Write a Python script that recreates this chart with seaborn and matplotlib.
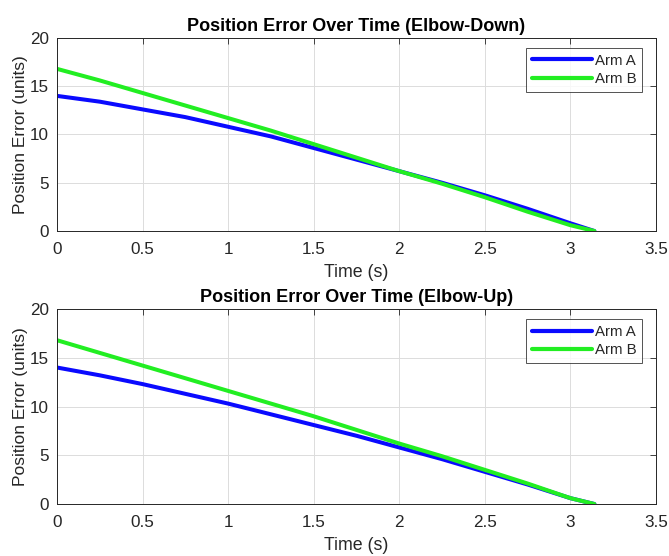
import matplotlib
matplotlib.use("Agg")
import matplotlib.pyplot as plt
import numpy as np
import pandas as pd
import seaborn as sns

# Sampled position error (units) over time (s)
time_s = [0.0, 0.25, 0.5, 0.75, 1.0, 1.25, 1.5, 1.75, 2.0, 2.25, 2.5, 2.75, 3.0, 3.14]

down_arm_a = [14.0, 13.4, 12.6, 11.8, 10.8, 9.8, 8.6, 7.4, 6.2, 5.0, 3.7, 2.3, 0.8, 0.0]
down_arm_b = [16.8, 15.6, 14.3, 13.0, 11.7, 10.4, 9.0, 7.6, 6.2, 4.9, 3.5, 2.0, 0.6, 0.0]

up_arm_a = [14.0, 13.2, 12.3, 11.3, 10.3, 9.2, 8.1, 7.0, 5.8, 4.6, 3.3, 2.0, 0.6, 0.0]
up_arm_b = [16.8, 15.5, 14.2, 12.9, 11.6, 10.3, 9.0, 7.6, 6.2, 4.9, 3.5, 2.1, 0.6, 0.0]

series_names = ["Arm A", "Arm B"]
titles = ["Position Error Over Time (Elbow-Down)", "Position Error Over Time (Elbow-Up)"]
x_ticks = [0, 0.5, 1, 1.5, 2, 2.5, 3, 3.5]
y_ticks = [0, 5, 10, 15, 20]

sns.set_style("white")
plt.rcParams["font.family"] = ["Liberation Sans", "DejaVu Sans"]

palette = {"Arm A": "#0a0aff", "Arm B": "#22ee22"}


def long_frame(a, b):
    return pd.DataFrame({
        "Time (s)": time_s * 2,
        "Position Error (units)": a + b,
        "Series": [series_names[0]] * len(time_s) + [series_names[1]] * len(time_s),
    })


fig = plt.figure(figsize=(6.69, 5.56), dpi=100)
ax_top = fig.add_axes([0.0852, 0.5845, 0.8954, 0.3472])
ax_bot = fig.add_axes([0.0852, 0.0935, 0.8954, 0.3507])

for ax, (a, b), title in zip([ax_top, ax_bot],
                             [(down_arm_a, down_arm_b), (up_arm_a, up_arm_b)],
                             titles):
    sns.lineplot(data=long_frame(a, b), x="Time (s)", y="Position Error (units)",
                 hue="Series", palette=palette, linewidth=2.9, ax=ax,
                 estimator=None, sort=False)
    ax.set_xlim(0, 3.5)
    ax.set_ylim(0, 20)
    ax.set_xticks(x_ticks)
    ax.set_xticklabels([f"{t:g}" for t in x_ticks])
    ax.set_yticks(y_ticks)
    ax.grid(True, color="#dcdcdc", linewidth=0.7)
    ax.set_axisbelow(True)
    ax.tick_params(direction="in", length=4, width=0.6, colors="#262626",
                   labelsize=12.3, top=True, right=True)
    ax.tick_params(axis="x", pad=8)
    ax.tick_params(axis="y", pad=6)
    for s in ax.spines.values():
        s.set_color("#262626")
        s.set_linewidth(0.7)
    ax.set_title(title, fontsize=13, fontweight="bold", color="black", pad=5)
    ax.set_xlabel("Time (s)", fontsize=12.8, color="#262626", labelpad=5)
    ax.set_ylabel("Position Error (units)", fontsize=12.5, color="#262626", labelpad=1)
    leg = ax.legend(loc="upper right", fontsize=10.8, frameon=True, fancybox=False,
                    edgecolor="#262626", handlelength=4.0, handletextpad=0.15,
                    borderpad=0.4, labelspacing=0.3, borderaxespad=0.0,
                    bbox_to_anchor=(0.977, 0.95))
    leg.get_frame().set_linewidth(0.7)
    for line in leg.get_lines():
        line.set_linewidth(3)

fig.savefig("out.png", dpi=100, facecolor="white")
